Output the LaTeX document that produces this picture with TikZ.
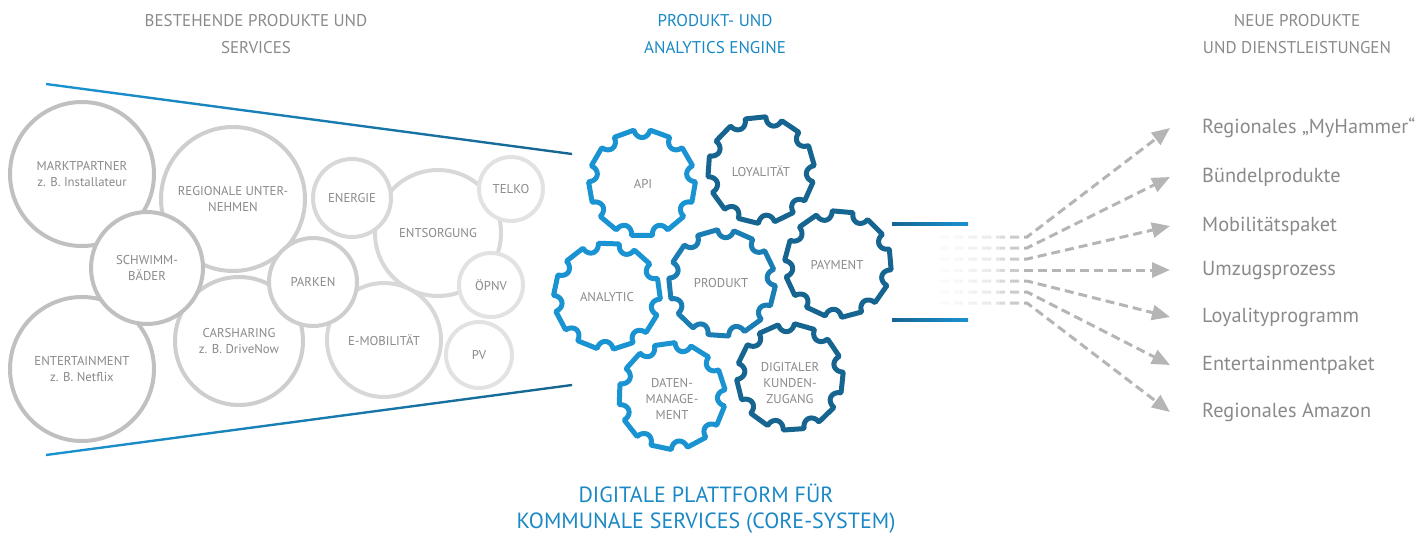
\documentclass[tikz,border=0pt]{standalone}
\usepackage{fontspec}
\setmainfont{PT Sans}
\usetikzlibrary{arrows.meta}
\definecolor{txtgray}{HTML}{8A8A8A}
\definecolor{cA}{HTML}{C0C0C0}
\definecolor{cB}{HTML}{CECECE}
\definecolor{cC}{HTML}{D8D8D8}
\definecolor{cD}{HTML}{E2E2E2}
\definecolor{blueL}{HTML}{1A93D2}
\definecolor{blueM}{HTML}{1A7DB4}
\definecolor{blueD}{HTML}{166590}
\definecolor{titleblue}{HTML}{1A88C5}
\definecolor{flowgray}{HTML}{B5B5B5}
\newcommand\drawgear[4]{%
  \draw[gearline, draw=#3] plot[domain=0:360, samples=721]
    ({#1+gr(gu(\x,#4))*cos(\x)}, {#2+gr(gu(\x,#4))*sin(\x)}) -- cycle;}
\begin{document}
\begin{tikzpicture}[x=1pt,y=-1pt,
  declare function={gu(\t,\p)=abs(mod(\t-\p+380,40)-20);
    gr(\u)=(\u<8.567)*(53.5-sqrt(max(0,64-(0.9337*\u)^2)))+(\u>=8.567)*(53.5*0.98016/cos(20-\u));},
  bub/.style={circle, draw, fill=white, line width=4pt, inner sep=0pt, align=center,
    text=txtgray, font=\fontsize{12.8}{16}\selectfont},
  gearline/.style={line width=5pt, line join=round},
  geartxt/.style={align=center, text=txtgray, font=\fontsize{12.8}{16}\selectfont},
  head/.style={align=center, font=\fontsize{17}{27}\selectfont},
  lab/.style={anchor=west, text=txtgray, font=\fontsize{20.3}{24}\selectfont, inner sep=0pt,
    text height=14pt, text depth=4pt},
  flow/.style={draw=flowgray, line width=3pt, dash pattern=on 9pt off 5pt,
    -{Triangle[length=18pt,width=15pt]}}
]
\useasboundingbox (0,0) rectangle (1425,533);

% headings
\node[head, text=txtgray] (h1) at (256,34) {BESTEHENDE PRODUKTE UND\\SERVICES};
\node[head, text=titleblue] (h2) at (715,34) {PRODUKT- UND\\ANALYTICS ENGINE};
\node[head, text=txtgray] (h3) at (1297,34) {NEUE PRODUKTE\\UND DIENSTLEISTUNGEN};

% funnel lines
\shade[left color=blueL, right color=blueD] (46,82.8) -- (572,152.8) -- (572,155.2) -- (46,85.2) -- cycle;
\shade[left color=blueL, right color=blueD] (46,453.8) -- (572,383.8) -- (572,386.2) -- (46,456.2) -- cycle;

% bubbles
\node[bub, draw=cC, minimum size=126pt] (entsorg) at (438,233) {ENTSORGUNG};
\node[bub, draw=cC, minimum size=114pt] (emob) at (384,340) {E-MOBILITÄT};
\node[bub, draw=cC, minimum size=78pt] (energie) at (352,198) {ENERGIE};
\node[bub, draw=cD, minimum size=64pt] (telko) at (511,189) {TELKO};
\node[bub, draw=cD, minimum size=64pt] (oepnv) at (491,285) {ÖPNV};
\node[bub, draw=cD, minimum size=66pt] (pv) at (479,355) {PV};
\node[bub, draw=cB, minimum size=144pt] (regio) at (233,199) {REGIONALE UNTER-\\NEHMEN};
\node[bub, draw=cB, minimum size=128pt] (cars) at (239,341) {CARSHARING\\z. B. DriveNow};
\node[bub, draw=cB, minimum size=88pt] (parken) at (313,282) {PARKEN};
\node[bub, draw=cA, minimum size=144pt] (markt) at (82,174) {MARKTPARTNER\\z. B. Installateur};
\node[bub, draw=cA, minimum size=144pt] (entert) at (82,369) {ENTERTAINMENT\\z. B. Netflix};
\node[bub, draw=cA, minimum size=112pt] (schwimm) at (147,268) {SCHWIMM-\\BÄDER};

% gears
\drawgear{642}{183}{blueL}{-10}
\drawgear{761}{170}{blueD}{4}
\drawgear{607}{296}{blueL}{12}
\drawgear{722}{283}{blueM}{-6}
\drawgear{838}{264}{blueD}{15}
\drawgear{672}{396}{blueL}{2}
\drawgear{790}{377}{blueD}{-14}
\node[geartxt] (api) at (643,184) {API};
\node[geartxt] (loy) at (761,171) {LOYALITÄT};
\node[geartxt] (ana) at (607,297) {ANALYTIC};
\node[geartxt] (prod) at (721,283) {PRODUKT};
\node[geartxt] (pay) at (837,265) {PAYMENT};
\node[geartxt] (daten) at (672,399) {DATEN-\\MANAGE-\\MENT};
\node[geartxt] (kunde) at (790,383) {DIGITALER\\KUNDEN-\\ZUGANG};

% right bracket lines
\shade[left color=blueD, right color=blueL] (892,222.8) rectangle (968,225.2);
\shade[left color=blueD, right color=blueL] (892,318.8) rectangle (968,321.2);

% flows
\foreach \i/\ys/\yt/\txt in {1/237/128/{Regionales „MyHammer“},2/248/177/{Bündelprodukte},
  3/259/226/{Mobilitätspaket},4/270/270/{Umzugsprozess},5/281/317/{Loyalityprogramm},
  6/292/365/{Entertainmentpaket},7/303/412/{Regionales Amazon}}{
  \coordinate (s\i) at (940,\ys);
  \coordinate (b\i) at (1027,\ys);
  \coordinate (t\i) at (1170,\yt);
  \node[lab] (l\i) at (1202,\yt) {\txt};
  \draw[flow] (s\i) -- (b\i) -- (t\i);
}
\foreach \k in {0,...,7}
  \fill[white, opacity=0.3] (934,230) rectangle ({1020-\k*10},310);

% bottom title
\node[align=center, text=titleblue, font=\fontsize{22}{26}\selectfont] (title) at (706,509)
  {DIGITALE PLATTFORM FÜR\\KOMMUNALE SERVICES (CORE-SYSTEM)};
\end{tikzpicture}
\end{document}
